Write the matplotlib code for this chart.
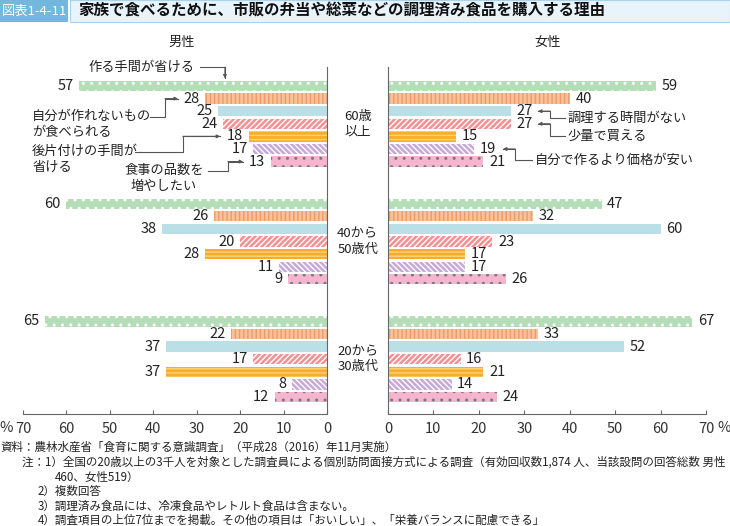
import matplotlib
matplotlib.use('Agg')
import matplotlib.pyplot as plt
import matplotlib.transforms as mtransforms
from matplotlib.patches import Rectangle

plt.rcParams['font.family'] = ['Noto Sans CJK JP', 'DejaVu Sans']
plt.rcParams['hatch.linewidth'] = 1.0

# データ
groups = ['60歳\n以上', '40から\n50歳代', '20から\n30歳代']
male = [
    [57, 28, 25, 24, 18, 17, 13],
    [60, 26, 38, 20, 28, 11, 9],
    [65, 22, 37, 17, 37, 8, 12],
]
female = [
    [59, 40, 27, 27, 15, 19, 21],
    [47, 32, 60, 23, 17, 17, 26],
    [67, 33, 52, 16, 21, 14, 24],
]
ticks = [0, 10, 20, 30, 40, 50, 60, 70]

# 項目ごとのスタイル (地の色, 模様, 模様の色)
styles = [
    ('#b5deb8', '..', '#ffffff'),    # 作る手間が省ける
    ('#f7c29c', '||||', '#ee9b63'),  # 自分が作れないものが食べられる
    ('#badfe7', '', 'none'),         # 調理する時間がない
    ('#f49092', '//////', '#ffffff'),  # 少量で買える
    ('#f8ae2c', '----', '#fcd277'),  # 後片付けの手間が省ける
    ('#c6a9d8', '\\\\\\\\\\\\', '#ffffff'),  # 食事の品数を増やしたい
    ('#f6b5cf', '..', '#7a7a7a'),    # 自分で作るより価格が安い
]

GROUP_STEP = 9.35
BAR_H = 0.82
LABEL_SIZE = 10.5

fig = plt.figure(figsize=(7.3, 5.26), dpi=100)
axL = fig.add_axes([23 / 730, 1 - 414 / 526, 304 / 730, 347 / 526])
axR = fig.add_axes([388 / 730, 1 - 414 / 526, 318 / 730, 347 / 526])


def positions(g):
    return [g * GROUP_STEP + i for i in range(7)]


for ax, data, side in [(axL, male, 'L'), (axR, female, 'R')]:
    for g, vals in enumerate(data):
        pos = positions(g)
        for i, (p, v) in enumerate(zip(pos, vals)):
            face, hatch, hc = styles[i]
            ax.barh(p, v, BAR_H, color=face, hatch=hatch if hatch else None,
                    edgecolor=hc, linewidth=0)
            if side == 'L':
                ax.annotate(str(v), (v, p), xytext=(-4, 0), textcoords='offset points',
                            ha='right', va='center', fontsize=LABEL_SIZE, color='#222222')
            else:
                ax.annotate(str(v), (v, p), xytext=(4, 0), textcoords='offset points',
                            ha='left', va='center', fontsize=LABEL_SIZE, color='#222222')
    ax.set_ylim(2 * GROUP_STEP + 6 + 1.35, -1.51)
    ax.set_xticks(ticks)
    ax.set_xticklabels([str(t) for t in ticks], fontsize=LABEL_SIZE, color='#333333')
    ax.set_yticks([])
    ax.tick_params(axis='x', direction='in', length=3, width=0.8, color='#666666', pad=6)
    for s in ['top', 'left', 'right', 'bottom']:
        ax.spines[s].set_visible(False)
    ax.spines['bottom'].set_visible(True)
    ax.spines['bottom'].set_color('#666666')
    ax.spines['bottom'].set_linewidth(0.8)

axL.set_xlim(70, 0)
axR.set_xlim(0, 70)
axL.spines['right'].set_visible(True)
axL.spines['right'].set_color('#666666')
axL.spines['right'].set_linewidth(0.8)
axR.spines['left'].set_visible(True)
axR.spines['left'].set_color('#666666')
axR.spines['left'].set_linewidth(0.8)

# % 表示 (目盛ラベルと同じ高さ)
axL.text(-0.0565, -0.04, '%', transform=axL.transAxes, ha='center', va='center',
         fontsize=LABEL_SIZE, color='#333333')
axR.text(1.057, -0.04, '%', transform=axR.transAxes, ha='center', va='center',
         fontsize=LABEL_SIZE, color='#333333')

# 年齢区分のラベル
blend = mtransforms.blended_transform_factory(axR.transAxes, axR.transData)
for g, name in enumerate(groups):
    axR.text(-0.095, g * GROUP_STEP + 3, name, transform=blend, ha='center', va='center',
             fontsize=9.5, color='#222222', linespacing=1.25, clip_on=False)

# 引き出し線
LC = '#555555'
ANN = 9.5


def leader(ax, pts, tip_first=False):
    xs = [p[0] for p in pts]
    ys = [p[1] for p in pts]
    ax.plot(xs, ys, color=LC, lw=0.8, clip_on=False)
    if tip_first:
        tip, tail = pts[0], pts[1]
    else:
        tip, tail = pts[-1], pts[-2]
    ax.annotate('', xy=tip, xytext=tail,
                arrowprops=dict(arrowstyle='-|>', color=LC, lw=0.8,
                                mutation_scale=5, shrinkA=0, shrinkB=0),
                annotation_clip=False)


def label(ax, x, y, txt, ha, ma=None):
    ax.text(x, y, txt, ha=ha, va='center', fontsize=ANN, color='#222222',
            linespacing=1.3, clip_on=False, multialignment=ma or ha)


leader(axL, [(29.2, -1.5), (23.5, -1.5), (23.5, -0.6)])
label(axL, 30.4, -1.5, '作る手間が省ける', 'right')
leader(axL, [(40.8, 2.46), (37.3, 2.46), (37.3, 1.0), (34.3, 1.0)])
label(axL, 67.9, 3.05, '自分が作れないもの\nが食べられる', 'left')
leader(axL, [(44.2, 5.24), (33.2, 5.24), (33.2, 4.0), (24.6, 4.0)])
label(axL, 67.9, 5.85, '後片付けの手間が\n省ける', 'left')
leader(axL, [(27.4, 6.75), (22.8, 6.75), (22.8, 6.0), (19.3, 6.0)])
label(axL, 28.4, 7.35, '食事の品数を\n増やしたい', 'right', 'center')

leader(axR, [(33.0, 2.0), (35.7, 2.0), (35.7, 2.54), (39.0, 2.54)], tip_first=True)
label(axR, 39.6, 2.54, '調理する時間がない', 'left')
leader(axR, [(33.0, 3.0), (35.7, 3.0), (35.7, 3.97), (39.0, 3.97)], tip_first=True)
label(axR, 39.6, 3.97, '少量で買える', 'left')
leader(axR, [(25.3, 5.0), (28.0, 5.0), (28.0, 5.88), (31.7, 5.88)], tip_first=True)
label(axR, 32.3, 5.88, '自分で作るより価格が安い', 'left')

# 見出し
fig.patches.append(Rectangle((0, 1 - 22 / 526), 68 / 730, 22 / 526, transform=fig.transFigure,
                             facecolor='#72b7de', edgecolor='none'))
fig.patches.append(Rectangle((70 / 730, 1 - 22 / 526), 660 / 730, 22 / 526, transform=fig.transFigure,
                             facecolor='#e8f3fa', edgecolor='#a9d3ea', linewidth=0.8))
fig.text(34 / 730, 1 - 11 / 526, '図表1-4-11', ha='center', va='center', fontsize=9.5,
         color='white')
fig.text(78 / 730, 1 - 11 / 526, '家族で食べるために、市販の弁当や総菜などの調理済み食品を購入する理由',
         ha='left', va='center', fontsize=11.2, color='#111111', fontweight='bold')
fig.text(182 / 730, 1 - 42 / 526, '男性', ha='center', va='center', fontsize=9.5, color='#222222')
fig.text(548 / 730, 1 - 42 / 526, '女性', ha='center', va='center', fontsize=9.5, color='#222222')

# 注記
notes = [
    (0, 447, '資料：農林水産省「食育に関する意識調査」（平成28（2016）年11月実施）'),
    (22, 462, '注：1）全国の20歳以上の3千人を対象とした調査員による個別訪問面接方式による調査（有効回収数1,874 人、当該設問の回答総数 男性'),
    (55, 477, '460、女性519）'),
    (38, 491, '2）複数回答'),
    (38, 506, '3）調理済み食品には、冷凍食品やレトルト食品は含まない。'),
    (38, 520, '4）調査項目の上位7位までを掲載。その他の項目は「おいしい」、「栄養バランスに配慮できる」'),
]
for x, y, t in notes:
    fig.text(x / 730, 1 - y / 526, t, ha='left', va='center', fontsize=8.3, color='#222222')

fig.savefig('out.png', dpi=100)
